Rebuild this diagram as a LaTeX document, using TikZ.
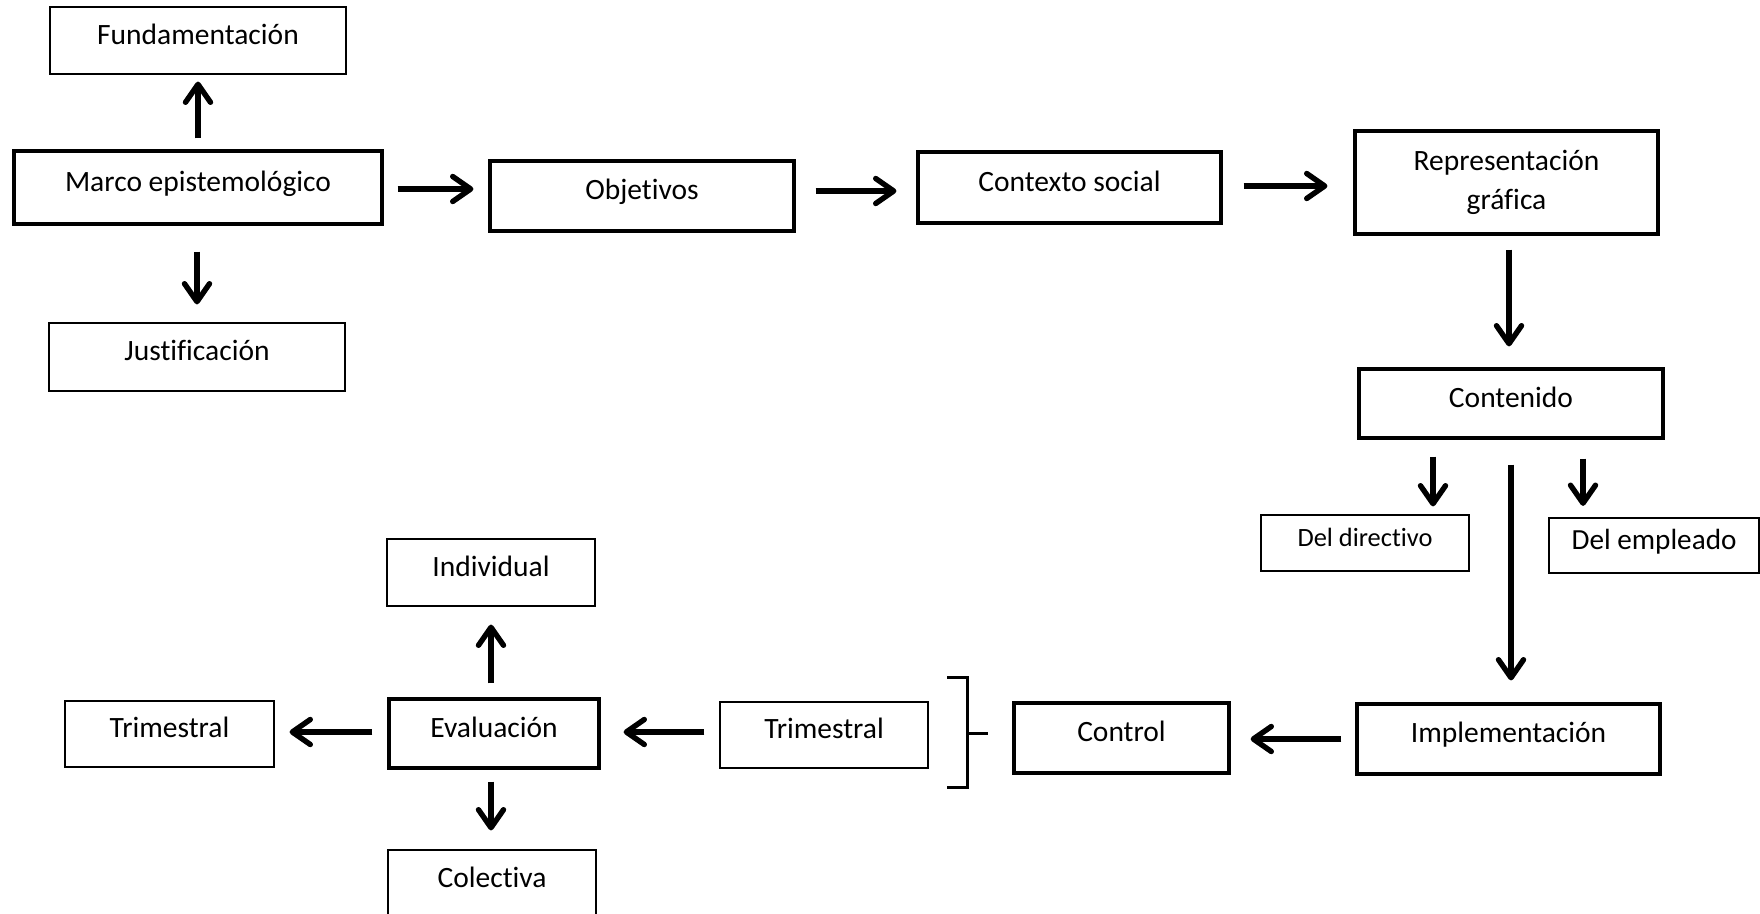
\documentclass[tikz,border=0pt]{standalone}
\usepackage{fontspec}
\setmainfont{Carlito}[Ligatures=NoCommon]
\usetikzlibrary{arrows.meta}
\begin{document}
\begin{tikzpicture}[x=0.5pt,y=-0.5pt,
  box/.style={draw, rectangle, inner sep=0pt, align=center, font=\fontsize{14.75}{19.5}\selectfont},
  one/.style={text height=2ex, text depth=1.2ex},
  thinbox/.style={box, one, line width=0.6pt},
  medbox/.style={box, one, line width=1.1pt},
  thickbox/.style={box, one, line width=1.6pt},
  arr/.style={line width=2.7pt, -{Straight Barb[length=9pt,width=12.5pt,round]}},
  brk/.style={line width=1.5pt}]
\useasboundingbox (0,0) rectangle (1760,914);

\node[thinbox, minimum width=148pt, minimum height=33.5pt] (fund) at (198,40.5) {Fundamentación};
\node[thickbox, minimum width=184pt, minimum height=36.5pt] (marco) at (198,187.5) {Marco epistemológico};
\node[thinbox, minimum width=148pt, minimum height=34pt] (just) at (197,357) {Justificación};
\node[thickbox, minimum width=152pt, minimum height=35pt] (obj) at (642,196) {Objetivos};
\node[thickbox, minimum width=151.5pt, minimum height=35.5pt] (ctx) at (1069.5,187.5) {Contexto social};
\node[box, line width=1.6pt, minimum width=151.5pt, minimum height=51.5pt] (repr) at (1506.5,182.5) {Representación\\gráfica};
\node[thickbox, minimum width=152pt, minimum height=34.5pt] (cont) at (1511,403.5) {Contenido};
\node[thinbox, minimum width=104pt, minimum height=28pt, font=\fontsize{13.2}{16}\selectfont] (ddir) at (1365,543) {Del directivo};
\node[medbox, minimum width=105pt, minimum height=27.5pt, font=\fontsize{14.6}{18}\selectfont] (demp) at (1654,545.5) {Del empleado};
\node[thickbox, minimum width=151.5pt, minimum height=35pt] (impl) at (1508.5,739) {Implementación};
\node[thickbox, minimum width=107.5pt, minimum height=35pt] (ctrl) at (1121.5,738) {Control};
\node[thinbox, minimum width=104pt, minimum height=33pt] (trimR) at (824,735) {Trimestral};
\node[thickbox, minimum width=105pt, minimum height=34.5pt] (eval) at (494,733.5) {Evaluación};
\node[thinbox, minimum width=104.5pt, minimum height=33pt] (trimL) at (169.5,734) {Trimestral};
\node[thinbox, minimum width=104pt, minimum height=33.5pt] (indiv) at (491,572.5) {Individual};
\node[thinbox, minimum width=104pt, minimum height=33.5pt] (colec) at (492,883.5) {Colectiva};

\coordinate (r1) at (0,189);
\coordinate (r2) at (0,191);
\coordinate (r3) at (0,186);
\coordinate (r4) at (0,739);
\coordinate (r5) at (0,732);
\coordinate (c1) at (1509,0);
\coordinate (c2) at (1433,0);
\coordinate (c3) at (1583,0);
\coordinate (c4) at (1511,0);
\coordinate (c5) at (491,0);

\draw[arr, shorten <=5.5pt, shorten >=3.5pt] (marco.north) -- (fund.south);
\draw[arr, shorten <=13pt, shorten >=9pt] (just.north |- marco.south) -- (just.north);
\draw[arr, shorten <=7pt, shorten >=7.5pt] (marco.east |- r1) -- (obj.west |- r1);
\draw[arr, shorten <=10pt, shorten >=10pt] (obj.east |- r2) -- (ctx.west |- r2);
\draw[arr, shorten <=10.5pt, shorten >=13pt] (ctx.east |- r3) -- (repr.west |- r3);
\draw[arr, shorten <=7pt, shorten >=10.5pt] (c1 |- repr.south) -- (c1 |- cont.north);
\draw[arr, shorten <=8.5pt, shorten >=4pt] (c2 |- cont.south) -- (c2 |- ddir.north);
\draw[arr, shorten <=9.5pt, shorten >=5.5pt] (c3 |- cont.south) -- (c3 |- demp.north);
\draw[arr, shorten <=12.5pt, shorten >=11pt] (c4 |- cont.south) -- (c4 |- impl.north);
\draw[arr, shorten <=7pt, shorten >=10pt] (impl.west |- r4) -- (ctrl.east |- r4);
\draw[arr, shorten <=7.5pt, shorten >=11.5pt] (trimR.west |- r5) -- (eval.east |- r5);
\draw[arr, shorten <=7.5pt, shorten >=7.5pt] (eval.west |- r5) -- (trimL.east |- r5);
\draw[arr, shorten <=7pt, shorten >=9pt] (c5 |- eval.north) -- (c5 |- indiv.south);
\draw[arr, shorten <=6pt, shorten >=9.5pt] (c5 |- eval.south) -- (c5 |- colec.north);

\coordinate (bt) at (947,677);
\coordinate (bb) at (947,787);
\coordinate (bm) at (967,733);
\coordinate (bx) at (967,0);
\draw[brk] (bt) -- (bx |- bt) -- (bx |- bb) -- (bb);
\draw[brk, shorten >=12pt] (bm) -- (ctrl.west |- bm);
\end{tikzpicture}
\end{document}
